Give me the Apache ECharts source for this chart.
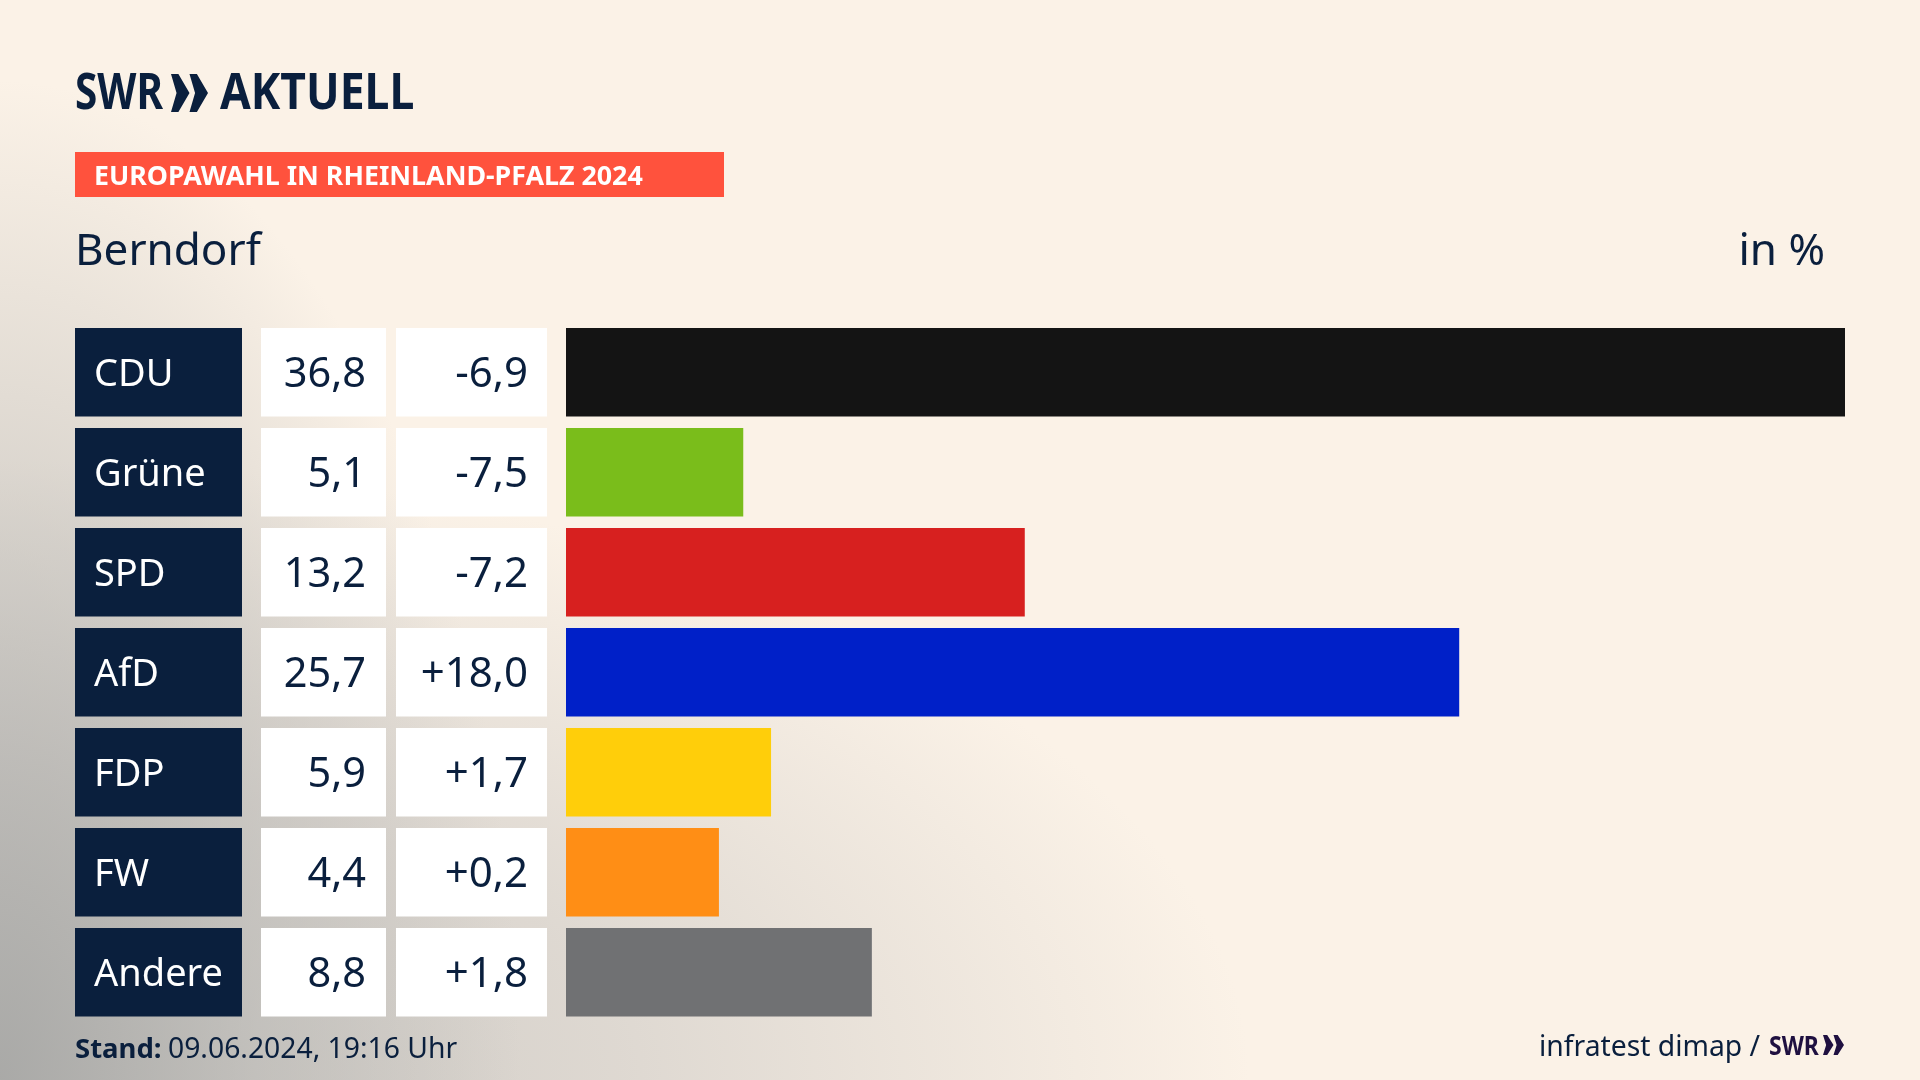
<!DOCTYPE html>
<html>
<head>
<meta charset="utf-8">
<title>Europawahl Berndorf</title>
<script src="https://cdn.jsdelivr.net/npm/echarts@6/dist/echarts.min.js"></script>
<style>
  html, body { margin: 0; padding: 0; width: 1920px; height: 1080px; overflow: hidden; }
  body {
    background:
      radial-gradient(ellipse 520px 1000px at 0% 100%, rgba(168,168,166,0.95) 0%, rgba(185,184,181,0.6) 50%, rgba(251,242,231,0) 100%),
      radial-gradient(ellipse 1250px 620px at 0% 100%, rgba(200,197,192,1) 0%, rgba(215,210,204,0.8) 50%, rgba(251,242,231,0) 100%),
      #fbf2e7;
  }
  #chart { width: 1920px; height: 1080px; }
</style>
</head>
<body>
<div id="chart"></div>
<script>
var parties = ['CDU', 'Grüne', 'SPD', 'AfD', 'FDP', 'FW', 'Andere']
var shares = [36.8, 5.1, 13.2, 25.7, 5.9, 4.4, 8.8]
var changes = [-6.9, -7.5, -7.2, 18.0, 1.7, 0.2, 1.8]
var colors = ['#141414', '#7abd1b', '#d7201f', '#0020c8', '#ffce0a', '#ff8e15', '#707173']

var navy = '#0a1f3d'
var font = '"Noto Sans", sans-serif'
var rowH = 88.6

function num(v) {
  return v.toFixed(1).replace('.', ',')
}
function signed(v) {
  return (v > 0 ? '+' : '') + num(v)
}

// linke Tabelle: Name, Ergebnis, Differenz
function renderCells(params, api) {
  var i = api.value(1)
  var y = api.coord([0, i])[1]
  var top = y - rowH / 2
  return {
    type: 'group',
    children: [
      { type: 'rect', shape: { x: 75, y: top, width: 167, height: rowH }, style: { fill: navy } },
      { type: 'rect', shape: { x: 261, y: top, width: 125, height: rowH }, style: { fill: '#fff' } },
      { type: 'rect', shape: { x: 396, y: top, width: 151, height: rowH }, style: { fill: '#fff' } },
      { type: 'text', style: { text: parties[i], x: 94, y: y + 3, align: 'left', verticalAlign: 'middle', fontFamily: font, fontSize: 38, fill: '#fff' } },
      { type: 'text', style: { text: num(shares[i]), x: 366, y: y + 3, align: 'right', verticalAlign: 'middle', fontFamily: font, fontSize: 41.5, fill: navy } },
      { type: 'text', style: { text: signed(changes[i]), x: 528, y: y + 3, align: 'right', verticalAlign: 'middle', fontFamily: font, fontSize: 42, fill: navy } }
    ]
  }
}

function chevrons(x, y, w, h, fill) {
  var out = []
  for (var k = 0; k < 2; k++) {
    var x0 = x + k * w * 0.5
    out.push({
      type: 'polygon',
      shape: { points: [[x0, y], [x0 + w * 0.2, y], [x0 + w * 0.5, y + h / 2], [x0 + w * 0.2, y + h], [x0, y + h], [x0 + w * 0.15, y + h / 2]] },
      style: { fill: fill }
    })
  }
  return out
}

var chart = echarts.init(document.getElementById('chart'))

chart.setOption({
  animation: false,
  backgroundColor: 'transparent',
  grid: { left: 566, top: 322.3, width: 1279, height: 700, containLabel: false },
  xAxis: { type: 'value', min: 0, max: 36.8, show: false },
  yAxis: { type: 'category', data: parties, inverse: true, show: false },
  series: [
    {
      type: 'bar',
      barWidth: rowH,
      data: shares.map(function (v, i) {
        return { value: v, itemStyle: { color: colors[i] } }
      })
    },
    {
      type: 'custom',
      renderItem: renderCells,
      data: parties.map(function (p, i) { return [0, i] })
    }
  ],
  graphic: [
    { type: 'text', x: 75, y: 70, scaleX: 0.81, style: { text: 'SWR', font: 'bold 50px "Noto Sans"', fill: navy } },
    { type: 'text', x: 220, y: 70, scaleX: 0.89, style: { text: 'AKTUELL', font: 'bold 50px "Noto Sans"', fill: navy } },
    { type: 'group', children: chevrons(171, 74, 37, 38, navy) },
    { type: 'rect', shape: { x: 75, y: 152, width: 649, height: 45 }, style: { fill: '#ff523d' } },
    { type: 'text', left: 94, top: 164, style: { text: 'EUROPAWAHL IN RHEINLAND-PFALZ 2024', font: 'bold 26.8px "Noto Sans"', fill: '#fff' } },
    { type: 'text', left: 75, top: 230, style: { text: 'Berndorf', font: '44px "Noto Sans"', fill: navy } },
    { type: 'text', right: 95, top: 230, style: { text: 'in %', font: '44px "Noto Sans"', fill: navy } },
    { type: 'text', left: 75, top: 1036, style: { text: 'Stand:', font: 'bold 27.5px "Noto Sans"', fill: navy } },
    { type: 'text', left: 168, top: 1036, style: { text: '09.06.2024, 19:16 Uhr', font: '28.3px "Noto Sans"', fill: navy } },
    { type: 'text', left: 1539, top: 1034, style: { text: 'infratest dimap /', font: '28.3px "Noto Sans"', fill: navy } },
    { type: 'text', x: 1769, y: 1034, scaleX: 0.85, style: { text: 'SWR', font: 'bold 27px "Noto Sans"', fill: '#1f1040' } },
    { type: 'group', children: chevrons(1823, 1035, 21, 20, '#1f1040') }
  ]
})
</script>
</body>
</html>
